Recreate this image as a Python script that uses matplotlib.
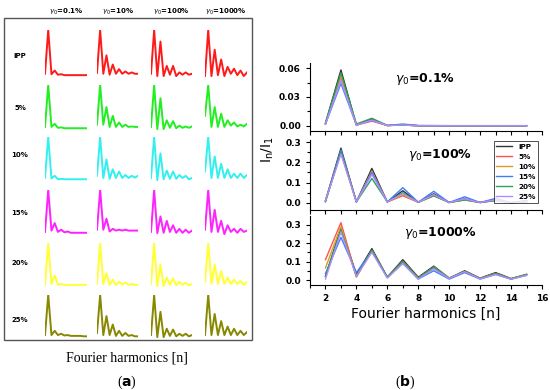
import numpy as np
import matplotlib
matplotlib.use("Agg")
import matplotlib.pyplot as plt
from matplotlib.patches import Rectangle
from matplotlib.ticker import MultipleLocator

# ---- data ----
n = list(range(2, 16))
groups = ["iPP", "5%", "10%", "15%", "20%", "25%"]
strains_a = ["0.1%", "10%", "100%", "1000%"]

# panel (a): normalised mini spectra, one row per sample
mini_01 = [
    [0.05, 1.0, 0.04, 0.12, 0.03, 0.04, 0.02, 0.02, 0.02, 0.02, 0.02, 0.02, 0.02, 0.02],
    [0.05, 1.0, 0.05, 0.12, 0.03, 0.04, 0.02, 0.02, 0.02, 0.02, 0.02, 0.02, 0.02, 0.02],
    [0.05, 1.0, 0.04, 0.10, 0.02, 0.03, 0.02, 0.02, 0.02, 0.02, 0.02, 0.02, 0.02, 0.02],
    [0.05, 1.0, 0.08, 0.25, 0.05, 0.10, 0.04, 0.06, 0.03, 0.03, 0.03, 0.03, 0.03, 0.03],
    [0.03, 1.0, 0.05, 0.25, 0.03, 0.05, 0.03, 0.03, 0.03, 0.03, 0.03, 0.03, 0.03, 0.03],
    [0.05, 1.0, 0.05, 0.15, 0.05, 0.08, 0.04, 0.05, 0.03, 0.03, 0.03, 0.03, 0.02, 0.02],
]
mini_10 = [
    [0.07, 1.0, 0.05, 0.45, 0.03, 0.25, 0.05, 0.15, 0.05, 0.10, 0.05, 0.08, 0.05, 0.05],
    [0.10, 1.0, 0.10, 0.50, 0.05, 0.30, 0.05, 0.15, 0.05, 0.10, 0.05, 0.06, 0.05, 0.05],
    [0.10, 1.0, 0.05, 0.48, 0.03, 0.25, 0.05, 0.20, 0.05, 0.12, 0.05, 0.10, 0.06, 0.10],
    [0.10, 1.0, 0.10, 0.35, 0.06, 0.12, 0.08, 0.10, 0.08, 0.10, 0.08, 0.08, 0.08, 0.08],
    [0.05, 1.0, 0.05, 0.30, 0.03, 0.15, 0.03, 0.10, 0.04, 0.08, 0.03, 0.05, 0.03, 0.03],
    [0.10, 1.0, 0.05, 0.50, 0.05, 0.30, 0.03, 0.15, 0.03, 0.10, 0.03, 0.05, 0.02, 0.02],
]
mini_100 = [
    [0.05, 1.0, 0.00, 0.75, 0.00, 0.22, 0.03, 0.22, 0.00, 0.08, 0.03, 0.08, 0.03, 0.05],
    [0.05, 1.0, 0.00, 0.70, 0.00, 0.20, 0.03, 0.18, 0.02, 0.08, 0.03, 0.06, 0.03, 0.06],
    [0.05, 1.0, 0.00, 0.62, 0.02, 0.22, 0.03, 0.20, 0.03, 0.12, 0.05, 0.10, 0.02, 0.05],
    [0.05, 1.0, 0.02, 0.40, 0.03, 0.30, 0.05, 0.20, 0.03, 0.12, 0.03, 0.10, 0.03, 0.08],
    [0.05, 1.0, 0.00, 0.50, 0.00, 0.20, 0.03, 0.18, 0.02, 0.10, 0.03, 0.08, 0.02, 0.05],
    [0.05, 1.0, 0.00, 0.60, 0.00, 0.20, 0.03, 0.18, 0.02, 0.08, 0.03, 0.08, 0.02, 0.05],
]
mini_1000 = [
    [0.00, 1.0, 0.00, 0.57, 0.02, 0.36, 0.00, 0.20, 0.05, 0.16, 0.02, 0.12, 0.00, 0.08],
    [0.30, 1.0, 0.05, 0.50, 0.05, 0.35, 0.05, 0.20, 0.08, 0.15, 0.06, 0.10, 0.06, 0.12],
    [0.20, 1.0, 0.05, 0.55, 0.05, 0.38, 0.05, 0.25, 0.05, 0.15, 0.05, 0.15, 0.05, 0.12],
    [0.10, 1.0, 0.05, 0.55, 0.05, 0.30, 0.00, 0.20, 0.05, 0.12, 0.03, 0.12, 0.05, 0.08],
    [0.10, 1.0, 0.05, 0.50, 0.05, 0.35, 0.05, 0.20, 0.05, 0.15, 0.05, 0.12, 0.03, 0.10],
    [0.05, 1.0, 0.05, 0.55, 0.05, 0.38, 0.05, 0.25, 0.05, 0.20, 0.05, 0.15, 0.05, 0.12],
]

# panel (b): In/I1 for gamma0 = 0.1 %, 100 %, 1000 %
b_01 = [
    [0.003, 0.058, 0.001, 0.007, 0.0005, 0.001, 0.0003, 0.0003, 0.0003, 0.0003, 0.0003, 0.0003, 0.0003, 0.0003],
    [0.002, 0.050, 0.001, 0.005, 0.0005, 0.001, 0.0003, 0.0003, 0.0003, 0.0003, 0.0003, 0.0003, 0.0003, 0.0003],
    [0.002, 0.052, 0.001, 0.006, 0.0005, 0.001, 0.0003, 0.0003, 0.0003, 0.0003, 0.0003, 0.0003, 0.0003, 0.0003],
    [0.002, 0.044, 0.001, 0.006, 0.0005, 0.002, 0.0005, 0.0004, 0.0003, 0.0003, 0.0003, 0.0003, 0.0003, 0.0003],
    [0.003, 0.055, 0.002, 0.008, 0.0005, 0.001, 0.0003, 0.0003, 0.0003, 0.0003, 0.0003, 0.0003, 0.0003, 0.0003],
    [0.002, 0.047, 0.001, 0.006, 0.0005, 0.001, 0.0003, 0.0003, 0.0003, 0.0003, 0.0003, 0.0003, 0.0003, 0.0003],
]
b_100 = [
    [0.010, 0.270, 0.005, 0.170, 0.005, 0.060, 0.003, 0.045, 0.002, 0.020, 0.002, 0.015, 0.001, 0.008],
    [0.010, 0.250, 0.005, 0.150, 0.005, 0.035, 0.003, 0.035, 0.002, 0.015, 0.002, 0.012, 0.001, 0.006],
    [0.010, 0.255, 0.005, 0.155, 0.005, 0.040, 0.003, 0.040, 0.002, 0.015, 0.002, 0.012, 0.001, 0.007],
    [0.010, 0.260, 0.005, 0.150, 0.005, 0.075, 0.003, 0.057, 0.002, 0.030, 0.002, 0.022, 0.001, 0.012],
    [0.005, 0.250, 0.005, 0.120, 0.005, 0.050, 0.003, 0.035, 0.002, 0.015, 0.002, 0.012, 0.001, 0.006],
    [0.010, 0.240, 0.005, 0.140, 0.005, 0.045, 0.003, 0.040, 0.002, 0.020, 0.002, 0.015, 0.001, 0.008],
]
b_1000 = [
    [0.020, 0.280, 0.030, 0.170, 0.015, 0.110, 0.015, 0.075, 0.010, 0.050, 0.010, 0.040, 0.008, 0.030],
    [0.110, 0.310, 0.020, 0.160, 0.015, 0.100, 0.010, 0.065, 0.010, 0.045, 0.008, 0.035, 0.005, 0.030],
    [0.065, 0.290, 0.015, 0.160, 0.015, 0.100, 0.010, 0.070, 0.010, 0.045, 0.008, 0.035, 0.006, 0.030],
    [0.035, 0.230, 0.040, 0.155, 0.015, 0.090, 0.005, 0.050, 0.005, 0.040, 0.005, 0.030, 0.005, 0.025],
    [0.020, 0.270, 0.020, 0.160, 0.015, 0.100, 0.010, 0.070, 0.010, 0.045, 0.008, 0.035, 0.006, 0.030],
    [0.005, 0.260, 0.020, 0.150, 0.010, 0.090, 0.005, 0.060, 0.008, 0.045, 0.006, 0.030, 0.005, 0.025],
]

mini_colors = ["#ff1a1a", "#22ee22", "#33f0f0", "#ff22ff", "#ffff33", "#888800"]
b_colors = ["#333333", "#ff5050", "#d4a020", "#3d7eff", "#2ca060", "#b48cff"]

W, H = 550, 390
fig = plt.figure(figsize=(5.5, 3.9), dpi=100)


def px_axes(x0, y0, x1, y1):
    # pixel box (top-left origin) -> figure axes
    return fig.add_axes([x0 / W, 1 - y1 / H, (x1 - x0) / W, (y1 - y0) / H])


# ---- panel (a) ----
fig.patches.append(Rectangle((4 / W, 1 - 340 / H), 248 / W, 322 / H,
                             transform=fig.transFigure, fill=False,
                             edgecolor="#555555", lw=1.0))

col_x = [(45, 87), (97, 138), (151, 192), (205, 247)]
row_y = [(30, 77), (85, 130), (137, 181), (190, 235), (243, 287), (295, 338)]
label_y = [56, 108, 155, 213, 263, 320]
mini_sets = [mini_01, mini_10, mini_100, mini_1000]

for j, s in enumerate(strains_a):
    cx = (col_x[j][0] + col_x[j][1]) / 2
    fig.text(cx / W, 1 - 12 / H, r"$\gamma_0$=" + s, ha="center", va="center",
             fontsize=5, fontweight="bold")

for i, g in enumerate(groups):
    fig.text(20 / W, 1 - label_y[i] / H, g, ha="center", va="center",
             fontsize=5, fontweight="bold")
    for j in range(4):
        ax = px_axes(col_x[j][0], row_y[i][0], col_x[j][1], row_y[i][1])
        ax.plot(n, mini_sets[j][i], color=mini_colors[i], lw=1.4)
        ax.set_xlim(2, 15)
        ax.set_ylim(-0.02, 1.0)
        ax.axis("off")

fig.text(127 / W, 1 - 358 / H, "Fourier harmonics [n]", ha="center", va="center",
         fontsize=10, family="Liberation Serif")
fig.text(127 / W, 1 - 382 / H, r"($\mathbf{a}$)", ha="center", va="center",
         fontsize=10, family="Liberation Serif")

# ---- panel (b) ----
b_sets = [b_01, b_100, b_1000]
b_boxes = [(63, 131), (140, 210), (216, 285)]
b_ylims = [(-0.0052, 0.0652), (-0.035, 0.31), (-0.027, 0.346)]
b_major = [0.03, 0.1, 0.1]
b_titles = ["0.1%", "100%", "1000%"]
title_xy = [(425, 79), (440, 155), (440, 233)]

for k in range(3):
    ax = px_axes(310, b_boxes[k][0], 542, b_boxes[k][1])
    for i, g in enumerate(groups):
        ax.plot(n, b_sets[k][i], color=b_colors[i], lw=1.0, label=g)
    ax.set_xlim(1, 16)
    ax.set_ylim(*b_ylims[k])
    ax.xaxis.set_major_locator(MultipleLocator(2))
    ax.xaxis.set_minor_locator(MultipleLocator(1))
    ax.yaxis.set_major_locator(MultipleLocator(b_major[k]))
    ax.yaxis.set_minor_locator(MultipleLocator(b_major[k] / 2))
    ax.spines["top"].set_visible(False)
    ax.spines["right"].set_visible(False)
    ax.tick_params(which="both", direction="out", width=0.8, labelsize=6.5)
    ax.tick_params(which="major", length=3)
    ax.tick_params(which="minor", length=2)
    for t in ax.get_yticklabels() + ax.get_xticklabels():
        t.set_fontweight("bold")
    if k == 0:
        ax.yaxis.set_major_formatter(matplotlib.ticker.FormatStrFormatter("%.2f"))
    else:
        ax.yaxis.set_major_formatter(matplotlib.ticker.FormatStrFormatter("%.1f"))
    if k < 2:
        ax.tick_params(axis="x", which="both", labelbottom=False)
        ax.tick_params(axis="x", which="minor", length=3)
    fig.text(title_xy[k][0] / W, 1 - title_xy[k][1] / H,
             r"$\gamma_0$=" + b_titles[k], ha="center", va="center",
             fontsize=9, fontweight="bold")
    if k == 1:
        leg = ax.legend(loc="upper right", fontsize=5.2, frameon=True,
                        fancybox=False, edgecolor="black", handlelength=2.2,
                        borderpad=0.4, labelspacing=0.55,
                        bbox_to_anchor=(1.0, 1.04))
        leg.get_frame().set_linewidth(0.6)
        for t in leg.get_texts():
            t.set_fontweight("bold")
    if k == 2:
        ax.set_xlabel("Fourier harmonics [n]", fontsize=10, labelpad=3)

fig.text(268 / W, 1 - 150 / H, r"$\mathregular{I_n/I_1}$", rotation=90,
         ha="center", va="center", fontsize=10)
fig.text(405 / W, 1 - 382 / H, r"($\mathbf{b}$)", ha="center", va="center",
         fontsize=10, family="Liberation Serif")

fig.savefig("out.png", dpi=100)
